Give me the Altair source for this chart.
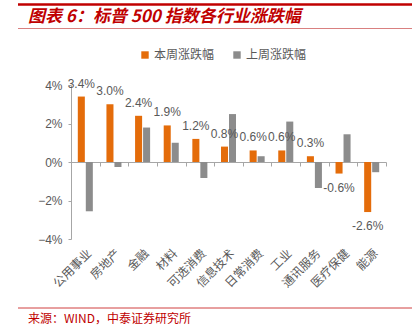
import altair as alt
import pandas as pd

categories = ["公用事业", "房地产", "金融", "材料", "可选消费", "信息技术",
              "日常消费", "工业", "通讯服务", "医疗保健", "能源"]
this_week = [3.4, 3.0, 2.4, 1.9, 1.2, 0.8, 0.6, 0.6, 0.3, -0.6, -2.6]
last_week = [-2.56, -0.26, 1.79, 1.0, -0.83, 2.49, 0.3, 2.1, -1.35, 1.44, -0.53]
series_names = ["本周涨跌幅", "上周涨跌幅"]
y_ticks = [-4, -2, 0, 2, 4]

rows = []
for c, a, b in zip(categories, this_week, last_week):
    rows.append({"cat": c, "series": series_names[0], "v": a / 100})
    rows.append({"cat": c, "series": series_names[1], "v": b / 100})
df = pd.DataFrame(rows)
df_lab = pd.DataFrame({"cat": categories, "v": [v / 100 for v in this_week],
                       "series": series_names[0],
                       "lab": [f"{v:.1f}%" for v in this_week]})

FONT = "Noto Sans CJK SC"
W, H = 315, 154
GRAY_TXT = "#595959"
AXIS = "#a6a6a6"

xs = alt.Scale(domain=categories, paddingInner=0, paddingOuter=0)
ys = alt.Scale(domain=[-0.04, 0.04], nice=False)
xo = alt.Scale(domain=series_names, paddingInner=0.12, paddingOuter=0.85)

bars = alt.Chart(df).mark_bar().encode(
    x=alt.X("cat:N", scale=xs, sort=categories,
            axis=alt.Axis(title=None, domain=False, ticks=False, labelAngle=-45,
                          labelAlign="right", labelBaseline="middle",
                          labelFont=FONT, labelFontSize=12, labelColor=GRAY_TXT,
                          labelPadding=12, labelOffset=4)),
    xOffset=alt.XOffset("series:N", scale=xo, sort=series_names),
    y=alt.Y("v:Q", scale=ys,
            axis=alt.Axis(title=None, values=[t / 100 for t in y_ticks], format=".0%",
                          grid=False, domainColor=AXIS, tickColor=AXIS, tickSize=3,
                          labelOverlap=False,
                          labelFont="Liberation Sans", labelFontSize=12,
                          labelColor=GRAY_TXT, labelPadding=6)),
    color=alt.Color("series:N", sort=series_names,
                    scale=alt.Scale(domain=series_names, range=["#E46C0A", "#8C8C8C"]),
                    legend=alt.Legend(title=None, orient="none", direction="horizontal",
                                      legendX=68, legendY=-36, symbolType="square",
                                      symbolSize=55, labelFont=FONT, labelFontSize=12,
                                      labelColor=GRAY_TXT, columnPadding=16,
                                      symbolOffset=0, labelOffset=3)),
)

zero_axis = alt.Chart(df).mark_bar(opacity=0).encode(
    x=alt.X("cat:N", scale=xs, sort=categories,
            axis=alt.Axis(title=None, labels=False, domainColor=AXIS, tickColor=AXIS,
                          tickSize=4, tickBand="extent", offset=-H / 2, orient="bottom")),
)

labels_pos = alt.Chart(df_lab).transform_filter("datum.v >= 0").mark_text(
    dy=-13, font="Liberation Sans", fontSize=12, color=GRAY_TXT).encode(
    x=alt.X("cat:N", scale=xs, sort=categories, axis=None),
    xOffset=alt.XOffset("series:N", scale=xo, sort=series_names),
    y=alt.Y("v:Q", scale=ys, axis=None),
    text="lab:N",
)
labels_neg = alt.Chart(df_lab).transform_filter("datum.v < 0").mark_text(
    dy=14, font="Liberation Sans", fontSize=12, color=GRAY_TXT).encode(
    x=alt.X("cat:N", scale=xs, sort=categories, axis=None),
    xOffset=alt.XOffset("series:N", scale=xo, sort=series_names),
    y=alt.Y("v:Q", scale=ys, axis=None),
    text="lab:N",
)

# decorative header / footer
L = -71
R = 412 - 71
deco = pd.DataFrame({"d": [0]})
top_line = alt.Chart(deco).mark_rule(color="#C00000", strokeWidth=2.5).encode(
    x=alt.value(L + 18), x2=alt.value(R), y=alt.value(-85 + 4.5))
mid_line = alt.Chart(deco).mark_rule(color="#D98080", strokeWidth=1).encode(
    x=alt.value(L + 18), x2=alt.value(R), y=alt.value(-85 + 28.5))
bot_line = alt.Chart(deco).mark_rule(color="#D04040", strokeWidth=1).encode(
    x=alt.value(L + 18), x2=alt.value(R), y=alt.value(308 - 85))
title_txt = alt.Chart(deco).mark_text(
    text="图表 6：标普 500 指数各行业涨跌幅", font=FONT, fontSize=17, fontWeight="bold",
    fontStyle="italic", color="#C00000", align="left", baseline="middle").encode(
    x=alt.value(L + 28), y=alt.value(-85 + 17))
src_txt = alt.Chart(deco).mark_text(
    text="来源：WIND，中泰证券研究所", font=FONT, fontSize=12, color="#C00000",
    align="left", baseline="middle").encode(
    x=alt.value(L + 28), y=alt.value(319 - 85))

chart = alt.layer(bars, zero_axis, labels_pos, labels_neg,
                  top_line, mid_line, bot_line, title_txt, src_txt).resolve_axis(
    x="independent", y="independent").properties(
    width=W, height=H,
    padding={"left": 71, "top": 85, "right": 29, "bottom": 90},
    autosize=alt.AutoSizeParams(type="none"),
).configure_view(stroke=None)

chart.save("out.html", embed_options={"renderer": "svg", "actions": False})
